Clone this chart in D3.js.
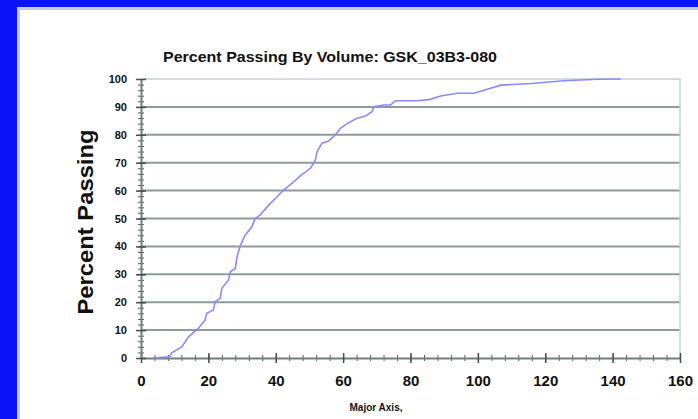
<!DOCTYPE html>
<html>
<head>
<meta charset="utf-8">
<script src="https://cdn.jsdelivr.net/npm/d3@7"></script>
<style>
  html, body { margin: 0; padding: 0; background: #ffffff; }
  svg { display: block; }
  text { font-family: "Liberation Sans", Arial, sans-serif; fill: #111; }
  .narrow { font-family: "Liberation Sans Narrow", "Arial Narrow", "Liberation Sans", sans-serif; }
</style>
</head>
<body>
<svg id="chart"></svg>
<script>
const width = 698;
const height = 419;

// Grain size (major axis) and cumulative percent passing
const majorAxis = [4.2, 8.6, 9.1, 12.1, 14.1, 17.0, 19.0, 19.5, 21.5, 22.0, 23.5, 24.0, 26.0, 26.5,
  28.0, 28.5, 29.4, 30.9, 32.9, 33.9, 35.4, 37.9, 40.4, 42.3, 44.8, 47.3, 50.3, 51.7, 52.3,
  53.7, 55.7, 57.7, 59.2, 61.2, 64.1, 66.6, 68.6, 69.1, 72.1, 74.1, 75.5, 82.0, 85.9, 88.9,
  93.9, 98.8, 102.8, 106.8, 115.7, 125.6, 135.5, 142.5];
const percentPassing = [0, 0.5, 1.9, 4.0, 7.6, 10.6, 13.6, 16.0, 17.2, 20.2, 21.4, 25.0, 28.0, 30.9,
  32.1, 36.3, 40.0, 44.0, 47.0, 50.0, 51.3, 54.8, 57.8, 60.2, 62.6, 65.3, 68.0, 70.6, 74.0,
  77.0, 77.8, 80.0, 82.3, 84.0, 85.9, 86.7, 88.3, 90.1, 90.7, 90.7, 92.2, 92.2, 92.7, 93.9,
  94.9, 94.9, 96.3, 97.8, 98.4, 99.4, 99.9, 100];

const xTicks = [0, 20, 40, 60, 80, 100, 120, 140, 160];
const yTicks = [0, 10, 20, 30, 40, 50, 60, 70, 80, 90, 100];

const chartTitle = "Percent Passing By Volume: GSK_03B3-080";
const yTitle = "Percent Passing";
const xTitle = "Major Axis,";

const plot = { left: 141, right: 680, top: 79, bottom: 358 };

const svg = d3.select("#chart")
  .attr("width", width)
  .attr("height", height);

// blue slide background with white panel
svg.append("rect").attr("width", width).attr("height", height).attr("fill", "#0a14fa");
svg.append("rect").attr("x", 17).attr("y", 7).attr("width", width - 17).attr("height", height - 7)
  .attr("fill", "#c4cece");
svg.append("rect").attr("x", 20).attr("y", 10).attr("width", width - 20).attr("height", height - 10)
  .attr("fill", "#ffffff");

const xScale = d3.scaleLinear().domain([0, 160]).range([plot.left, plot.right]);
const yScale = d3.scaleLinear().domain([0, 100]).range([plot.bottom, plot.top]);

// gridlines
svg.append("g")
  .selectAll("line")
  .data(yTicks.filter(d => d > 0 && d < 100))
  .enter()
  .append("line")
  .attr("x1", plot.left)
  .attr("x2", plot.right)
  .attr("y1", d => yScale(d))
  .attr("y2", d => yScale(d))
  .attr("stroke", "#8c9b9b")
  .attr("stroke-width", 2);

// plot frame (top / right)
svg.append("path")
  .attr("d", `M${plot.left},${yScale(100)}H${plot.right}V${plot.bottom}`)
  .attr("fill", "none")
  .attr("stroke", "#c6d2d2")
  .attr("stroke-width", 1.5);

// minor ticks
const xMinor = d3.range(0, 161, 4);
const yMinor = d3.range(0, 101, 2);

svg.append("g")
  .attr("transform", `translate(0, ${plot.bottom})`)
  .call(d3.axisBottom(xScale).tickValues(xMinor).tickSize(3).tickFormat(""))
  .call(g => g.select(".domain").remove())
  .selectAll("line")
  .attr("y1", -3)
  .attr("stroke", "#506060");

svg.append("g")
  .attr("transform", `translate(${plot.left}, 0)`)
  .call(d3.axisLeft(yScale).tickValues(yMinor).tickSize(3).tickFormat(""))
  .call(g => g.select(".domain").remove())
  .selectAll("line")
  .attr("x1", 3)
  .attr("stroke", "#506060");

// major axes
const xAxis = svg.append("g")
  .attr("transform", `translate(0, ${plot.bottom})`)
  .call(d3.axisBottom(xScale).tickValues(xTicks).tickSize(5).tickPadding(12).tickSizeOuter(0));
xAxis.select(".domain").attr("stroke", "#6e7e7e").attr("stroke-width", 2);
xAxis.selectAll(".tick line").attr("y1", -5).attr("stroke", "#405050").attr("stroke-width", 1.5);
xAxis.selectAll(".tick text")
  .attr("class", "narrow")
  .style("font-size", "15px")
  .style("font-weight", "bold")
  .attr("fill", "#111");

const yAxis = svg.append("g")
  .attr("transform", `translate(${plot.left}, 0)`)
  .call(d3.axisLeft(yScale).tickValues(yTicks).tickSize(5).tickPadding(9).tickSizeOuter(0));
yAxis.select(".domain").attr("stroke", "#6e7e7e").attr("stroke-width", 2);
yAxis.selectAll(".tick line").attr("x1", 5).attr("stroke", "#405050").attr("stroke-width", 1.5);
yAxis.selectAll(".tick text")
  .style("font-size", "11px")
  .style("font-weight", "bold")
  .attr("fill", "#111");

// data line
const points = majorAxis.map((d, i) => [d, percentPassing[i]]);
svg.append("path")
  .datum(points)
  .attr("fill", "none")
  .attr("stroke", "#8a8aff")
  .attr("stroke-width", 1.6)
  .attr("d", d3.line().x(d => xScale(d[0])).y(d => yScale(d[1])));

// titles
svg.append("text")
  .attr("class", "narrow")
  .attr("x", 330)
  .attr("y", 62)
  .attr("text-anchor", "middle")
  .attr("textLength", 334)
  .attr("lengthAdjust", "spacingAndGlyphs")
  .style("font-size", "15px")
  .style("font-weight", "bold")
  .text(chartTitle);

svg.append("text")
  .attr("transform", `translate(93, 222) rotate(-90)`)
  .attr("text-anchor", "middle")
  .attr("textLength", 185)
  .attr("lengthAdjust", "spacingAndGlyphs")
  .style("font-size", "22px")
  .style("font-weight", "bold")
  .text(yTitle);

svg.append("text")
  .attr("class", "narrow")
  .attr("x", 376)
  .attr("y", 411)
  .attr("text-anchor", "middle")
  .style("font-size", "10px")
  .style("font-weight", "bold")
  .text(xTitle);
</script>
</body>
</html>
